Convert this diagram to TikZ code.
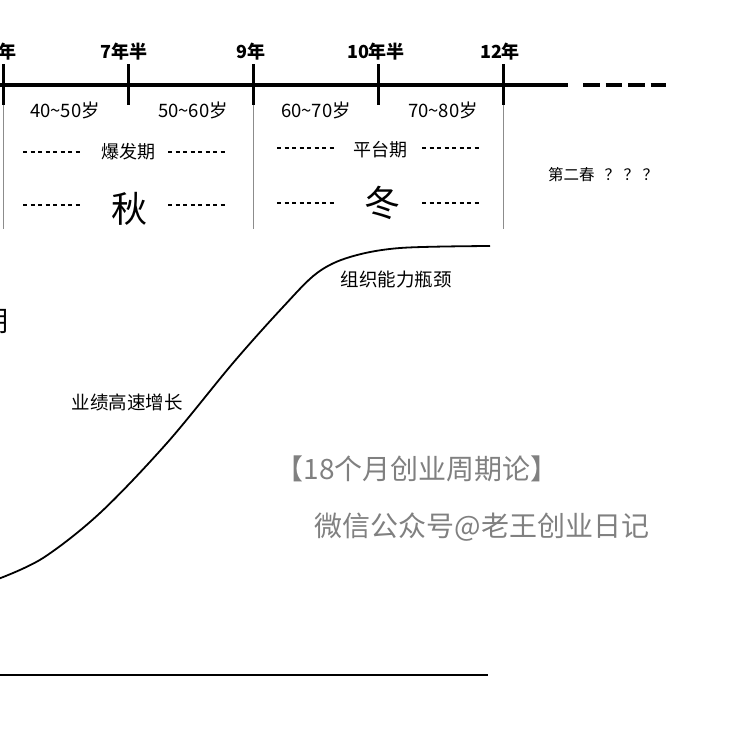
\documentclass[tikz,border=0pt]{standalone}
\usepackage{fontspec}
\setmainfont{Noto Sans CJK SC}
\definecolor{wmgray}{HTML}{808080}
\definecolor{sepgray}{HTML}{8C8C8C}
\begin{document}
\begin{tikzpicture}[x=1pt,y=-1pt,
  yrlabel/.style={font=\bfseries\fontsize{18}{18}\selectfont, inner sep=0pt},
  agelabel/.style={font=\fontsize{18.5}{19}\selectfont, inner sep=0pt},
  phaselabel/.style={font=\fontsize{18}{18}\selectfont, inner sep=0pt},
  seasonlabel/.style={font=\fontsize{36}{36}\selectfont, inner sep=0pt},
  curvelabel/.style={font=\fontsize{18.5}{19}\selectfont, inner sep=0pt},
  marklabel/.style={font=\fontsize{28}{28}\selectfont, text=wmgray, inner sep=0pt},
  axisline/.style={line width=4pt},
  tickline/.style={line width=3.6pt},
  sepline/.style={line width=0.9pt, draw=sepgray},
  dashrow/.style={line width=1.2pt, dash pattern=on 4.2pt off 3.3pt},
  tailline/.style={line width=4pt, dash pattern=on 16.5pt off 6pt}]
\useasboundingbox (0,0) rectangle (732,732);
\clip (0,0) rectangle (732,732);

% axis
\coordinate (a0) at (0,85);
\coordinate (a1) at (568,85);
\coordinate (d0) at (583,85);
\coordinate (d1) at (666,85);
\draw[axisline] (a0) -- (a1);
\draw[tailline] (d0) -- (d1);

% ticks
\foreach \n/\x in {t0/3.5, t1/128.5, t2/253.5, t3/378.5, t4/503.5}{
  \coordinate (\n top) at (\x,64);
  \coordinate (\n bot) at (\x,105);
  \draw[tickline] (\n top) -- (\n bot);
}

% separators
\foreach \n/\x in {s0/3.5, s2/253.5, s4/503.5}{
  \coordinate (\n top) at (\x,105);
  \coordinate (\n bot) at (\x,229);
  \draw[sepline] (\n top) -- (\n bot);
}

% year labels
\node[yrlabel, anchor=east] (y0) at (16.5,52) {年};
\node[yrlabel] (y1) at (124,52) {7年半};
\node[yrlabel] (y2) at (251,52) {9年};
\node[yrlabel] (y3) at (376,52) {10年半};
\node[yrlabel] (y4) at (500,52) {12年};

% age labels
\node[agelabel] (g1) at (65,110) {40\textasciitilde 50岁};
\node[agelabel] (g2) at (193,110) {50\textasciitilde 60岁};
\node[agelabel] (g3) at (316,110) {60\textasciitilde 70岁};
\node[agelabel] (g4) at (443,110) {70\textasciitilde 80岁};

% phase labels
\node[phaselabel] (p1) at (128,152) {爆发期};
\node[phaselabel] (p2) at (380,150) {平台期};
\node[seasonlabel] (q1) at (129.5,209) {秋};
\node[seasonlabel] (q2) at (382,203) {冬};

% dash rows
\foreach \n/\xa/\xb/\y in {r1/23/82/152, r2/168/227/152, r3/23/82/205, r4/168/227/205,
                        r5/277/336/148, r6/422/481/148, r7/277/336/203, r8/422/481/203}{
  \coordinate (\n a) at (\xa,\y);
  \coordinate (\n b) at (\xb,\y);
  \draw[dashrow] (\n a) -- (\n b);
}

% second spring
\node[inner sep=0pt, font=\fontsize{15.5}{16}\selectfont, anchor=west] (sp) at (548,175)
  {第二春\hspace{10pt}？\hspace{3.5pt}？\hspace{3.5pt}？};

% left clipped label
\node[inner sep=0pt, font=\fontsize{28}{28}\selectfont, anchor=east] (lc) at (8.5,321) {期};

% curve
\draw[line width=1.8pt] plot[smooth, tension=0.55] coordinates {
  (-2,579) (43,558) (100,513) (167,443) (233,363) (283,307) (317,273)
  (350,257) (400,248) (490,246)};

\node[curvelabel] (c1) at (127,402) {业绩高速增长};
\node[curvelabel] (c2) at (396,279) {组织能力瓶颈};

% base line
\coordinate (b0) at (0,675);
\coordinate (b1) at (488,675);
\draw[line width=2.4pt] (b0) -- (b1);

% watermark
\node[marklabel] (m1) at (417,469) {【18个月创业周期论】};
\node[marklabel] (m2) at (482,527) {微信公众号@老王创业日记};
\end{tikzpicture}
\end{document}
